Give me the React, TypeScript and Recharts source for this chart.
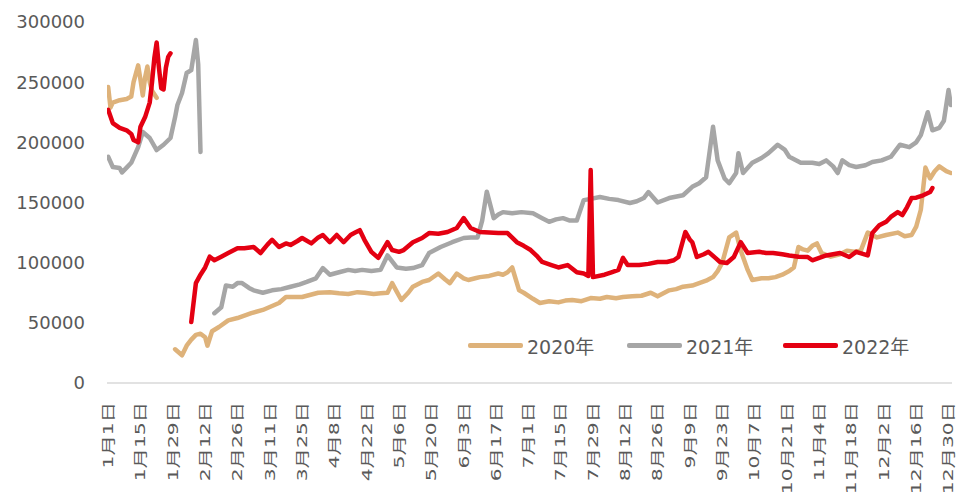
import React from 'react';
import { LineChart, Line, XAxis, YAxis } from 'recharts';

const tickDays = [1, 15, 29, 43, 57, 71, 85, 99, 113, 127, 141, 155, 169, 183, 197, 211, 225, 239, 253, 267, 281, 295, 309, 323, 337, 351, 365];
const tickLabels = ['1月1日', '1月15日', '1月29日', '2月12日', '2月26日', '3月11日', '3月25日', '4月8日', '4月22日', '5月6日', '5月20日', '6月3日', '6月17日', '7月1日', '7月15日', '7月29日', '8月12日', '8月26日', '9月9日', '9月23日', '10月7日', '10月21日', '11月4日', '11月18日', '12月2日', '12月16日', '12月30日'];
const yTicks = [0, 50000, 100000, 150000, 200000, 250000, 300000];
const seriesNames = ['2020年', '2021年', '2022年'];
const seriesColors = ['#DEB27A', '#A6A6A6', '#E40012'];

// [day of year, value]
const s2020: [number, number | null][] = [
  [1, 246000], [2, 229000], [3, 233000], [6, 235000], [9, 236000], [11, 238000], [12, 250000], [14, 264000], [15, 252000],
  [16, 239000], [17, 254000], [18, 263000], [19, 250000], [20, 243000], [22, 237000], [23, null],
  [30, 28000], [33, 23000], [35, 31000], [37, 36000], [39, 40000], [41, 41000], [43, 38000], [44, 31000], [46, 43000],
  [49, 46500], [53, 52000], [57, 54000], [63, 58000], [68, 60700], [75, 66500], [78, 71500], [85, 71500], [92, 75000],
  [97, 75500], [101, 74500], [105, 74000], [109, 75500], [112, 75000], [116, 74000], [119, 74500], [122, 75000],
  [124, 83000], [126, 76000], [128, 69000], [131, 75000], [133, 80000], [137, 84000], [140, 85600], [144, 91000],
  [147, 86000], [149, 83000], [152, 91000], [155, 87000], [157, 85600], [160, 87000], [162, 88000], [166, 89000],
  [170, 91000], [172, 90000], [174, 92000], [176, 96000], [179, 77000], [181, 75000], [185, 70000], [188, 66500],
  [192, 68000], [196, 67000], [199, 68500], [202, 69000], [206, 68000], [210, 70600], [214, 70000], [217, 71500],
  [221, 70500], [224, 71500], [228, 72000], [232, 72500], [236, 75000], [239, 72000], [244, 77000], [247, 78000],
  [250, 80000], [254, 81000], [257, 83000], [260, 85000], [263, 88000], [265, 93000], [267, 100000], [270, 121000],
  [273, 125000], [275, 110000], [278, 94000], [280, 85600], [284, 87000], [287, 87000], [290, 88000], [293, 90000],
  [296, 93000], [298, 96000], [300, 113000], [302, 111000], [304, 110000], [306, 114000], [308, 116000], [310, 108000],
  [314, 105000], [318, 107000], [321, 110000], [324, 109000], [327, 110000], [330, 125000], [334, 121000],
  [338, 123000], [343, 125000], [346, 122000], [349, 123000], [351, 130000], [353, 144000], [355, 179000],
  [357, 170000], [359, 176000], [361, 180000], [364, 176000], [366, 174500],
];

const s2021: [number, number | null][] = [
  [1, 188000], [3, 179500], [6, 178600], [7, 175000], [9, 179000], [11, 183000], [14, 196000], [16, 208600],
  [19, 203600], [22, 193600], [25, 198000], [28, 203600], [30, 221000], [31, 231000], [33, 241000], [35, 257600],
  [37, 260000], [39, 285000], [40, 265000], [41, 192000], [42, null],
  [47, 58000], [50, 63000], [52, 81000], [55, 80000], [57, 83000], [59, 83000], [62, 79000], [64, 77000], [68, 75000],
  [72, 77000], [76, 78000], [80, 80000], [84, 82000], [87, 84000], [91, 87000], [94, 95500], [97, 90000], [101, 92000],
  [105, 94000], [108, 93000], [111, 94000], [115, 93000], [119, 94000], [122, 106000], [126, 96000], [130, 95000],
  [133, 95500], [137, 98000], [140, 108000], [145, 113000], [150, 117000], [155, 120500], [158, 121000], [161, 121000],
  [163, 135000], [165, 159000], [168, 137000], [170, 140000], [172, 142000], [176, 141000], [180, 142000],
  [185, 141000], [189, 137000], [192, 134000], [195, 136000], [198, 137000], [201, 135000], [204, 135000],
  [207, 152000], [210, 153000], [214, 154600], [218, 153000], [222, 152000], [227, 149600], [230, 151000],
  [233, 153700], [235, 158700], [239, 150000], [244, 153700], [250, 156000], [254, 163000], [257, 166000],
  [260, 171000], [263, 213000], [265, 185000], [268, 170000], [270, 166000], [273, 174500], [274, 191000],
  [276, 174500], [280, 183000], [284, 187000], [287, 191000], [291, 198000], [294, 194000], [296, 188000],
  [301, 183000], [306, 183000], [309, 182000], [312, 185000], [315, 180000], [317, 174500], [319, 185000],
  [322, 181000], [325, 179500], [329, 181000], [332, 183600], [336, 185000], [340, 188000], [344, 198000],
  [348, 196000], [351, 200000], [353, 206000], [356, 225000], [358, 210000], [361, 212000], [363, 218000],
  [365, 243500], [366, 231000],
];

const s2022: [number, number | null][] = [
  [1, 227000], [3, 216000], [6, 212000], [9, 210000], [11, 207000], [12, 202000], [14, 200000], [15, 213000],
  [17, 221000], [19, 233000], [20, 250000], [21, 270000], [22, 283000], [23, 262000], [24, 245000], [25, 244000],
  [26, 262000], [27, 271000], [28, 274000], [29, null],
  [37, 50700], [39, 83000], [41, 90000], [43, 96000], [45, 105000], [47, 102000], [50, 105000], [53, 108000],
  [57, 112000], [60, 112000], [64, 113000], [67, 108000], [70, 115000], [72, 119000], [75, 113000], [78, 116000],
  [80, 114700], [83, 118000], [85, 120500], [89, 116000], [92, 121000], [94, 123000], [97, 117000], [100, 123000],
  [103, 117000], [106, 123000], [108, 125000], [110, 127000], [112, 119000], [115, 109000], [118, 104000],
  [122, 117000], [124, 110500], [127, 109000], [129, 110500], [133, 117000], [137, 120500], [140, 124600],
  [144, 124000], [148, 125500], [152, 128800], [155, 137000], [158, 128800], [162, 125500], [166, 125000],
  [170, 124600], [174, 124600], [178, 117000], [181, 114000], [184, 110500], [187, 105000], [189, 100600],
  [193, 98000], [196, 96000], [200, 98000], [204, 92000], [207, 91000], [209, 89000], [210, 177000], [211, 88000],
  [216, 90000], [219, 92000], [222, 94000], [224, 104000], [226, 98000], [231, 98000], [235, 99000], [239, 100600],
  [243, 100600], [246, 102000], [248, 104700], [251, 125500], [253, 119000], [254, 117000], [256, 104700],
  [259, 107000], [261, 109000], [264, 104000], [266, 100600], [269, 99700], [272, 104700], [275, 117000],
  [278, 108000], [283, 109000], [286, 108000], [289, 108000], [293, 107000], [296, 106000], [300, 105000],
  [304, 104700], [306, 102000], [309, 104000], [312, 106000], [315, 107000], [318, 108000], [322, 104700],
  [325, 109000], [330, 106000], [332, 124600], [335, 131000], [338, 134000], [340, 138000], [343, 142000],
  [345, 139600], [347, 146000], [349, 153700], [351, 154000], [354, 156000], [357, 158700], [358, 162000],
];

const allSeries = [s2020, s2021, s2022];
const toRows = (s: [number, number | null][]) => s.map(([day, v]) => ({ day, v }));

const FONT = '"DejaVu Sans", "Noto Sans CJK SC", sans-serif';

const XTick = (props: any) => {
  const { x, payload } = props;
  const idx = tickDays.indexOf(payload.value);
  const label = idx >= 0 ? tickLabels[idx] : '';
  return (
    <g transform={`translate(${x},${402}) rotate(-90)`}>
      <text
        x={0}
        y={0}
        textAnchor="end"
        dominantBaseline="central"
        transform="scale(1.45,1)"
        fontSize={14}
        fontFamily={FONT}
        fill="#595959"
      >
        {label}
      </text>
    </g>
  );
};

const legendLeft = [468, 627, 783];

export default function App() {
  return (
    <div style={{ position: 'absolute', left: 0, top: 0, width: 964, height: 498, background: '#fff' }}>
      <LineChart width={964} height={498} margin={{ top: 22, right: 12, left: 0, bottom: 0 }}>
        <XAxis
          type="number"
          dataKey="day"
          domain={[0.5, 366.5]}
          ticks={tickDays}
          interval={0}
          tick={<XTick />}
          height={115}
          axisLine={{ stroke: '#D9D9D9', strokeWidth: 1.5 }}
          tickLine={false}
          allowDataOverflow
        />
        <YAxis
          type="number"
          domain={[0, 300000]}
          ticks={yTicks}
          width={107}
          axisLine={false}
          tickLine={false}
          tickSize={0}
          tickMargin={22}
          tick={{ fontSize: 18, fontFamily: FONT, fill: '#595959' }}
        />
        {allSeries.map((s, i) => (
          <Line
            key={seriesNames[i]}
            data={toRows(s)}
            dataKey="v"
            name={seriesNames[i]}
            type="linear"
            stroke={seriesColors[i]}
            strokeWidth={4.5}
            dot={false}
            activeDot={false}
            strokeLinejoin="round"
            strokeLinecap="round"
            isAnimationActive={false}
          />
        ))}
      </LineChart>
      {seriesNames.map((n, i) => (
        <div
          key={n}
          style={{
            position: 'absolute',
            left: legendLeft[i],
            top: 333,
            height: 24,
            display: 'flex',
            alignItems: 'center',
            fontFamily: FONT,
            fontSize: 19,
            color: '#595959',
            whiteSpace: 'nowrap',
          }}
        >
          <div style={{ width: 55, height: 5, background: seriesColors[i], borderRadius: 2, marginRight: 4 }} />
          <span>{n}</span>
        </div>
      ))}
    </div>
  );
}
